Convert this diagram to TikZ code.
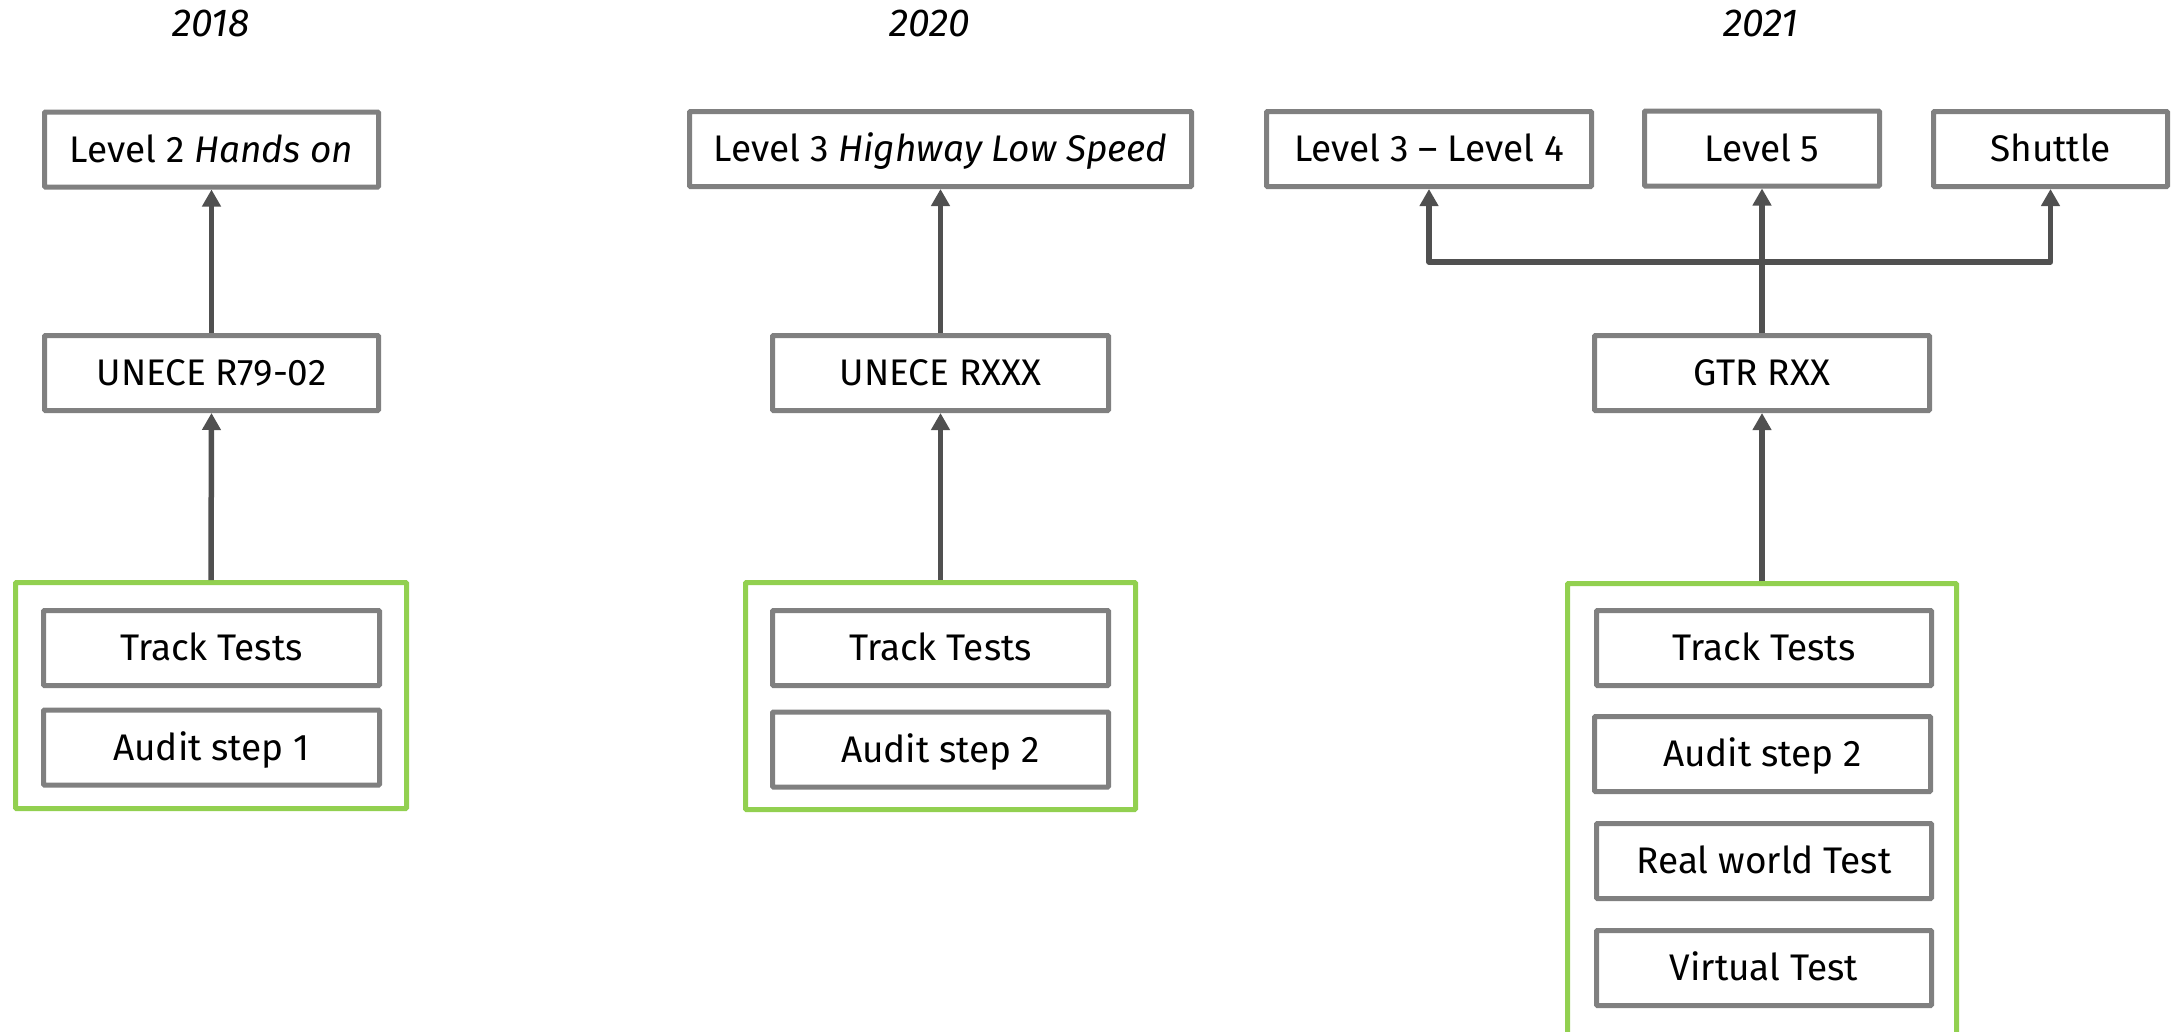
\documentclass[tikz,border=0pt]{standalone}
\usepackage{fontspec}
\setmainfont{Fira Sans}
\usetikzlibrary{arrows.meta}
\definecolor{boxgray}{HTML}{808080}
\definecolor{arrgray}{HTML}{505050}
\definecolor{lgreen}{HTML}{92D050}
\begin{document}
\begin{tikzpicture}[x=1pt,y=-1pt,
  box/.style={draw=boxgray, line width=5pt, fill=white, minimum height=75pt,
    inner sep=0pt, font=\fontsize{37}{40}\selectfont, text height=25.5pt,
    text depth=0pt, rounded corners=1pt},
  grp/.style={draw=lgreen, line width=5pt, inner sep=0pt, rounded corners=1pt},
  arr/.style={draw=arrgray, line width=5.5pt, -{Triangle[width=18pt,length=17pt]},
    line join=round},
  year/.style={font=\fontsize{39}{42}\selectfont\itshape, inner sep=0pt,
    text height=27pt, text depth=0pt}]

\clip (0,0) rectangle (2182,1031);
\fill[white] (0,0) rectangle (2182,1031);

% years
\node[year] (y18) at (211,22.5) {2018};
\node[year] (y20) at (930,22.5) {2020};
\node[year] (y21) at (1761,22.5) {2021};

% green group boxes
\node[grp, minimum width=391pt, minimum height=226pt] (G1) at (211,695.5) {};
\node[grp, minimum width=390pt, minimum height=227pt] (G2) at (940.5,696) {};
\node[grp, minimum width=389pt, minimum height=516pt] (G3) at (1762,841.5) {};

% column 2018
\node[box, minimum width=334pt] (L2) at (211.5,149.5) {Level 2 \textit{Hands on}};
\node[box, minimum width=334pt] (U1) at (211.5,373) {UNECE R79-02};
\node[box, minimum width=336pt] (T1) at (211.5,648) {Track Tests};
\node[box, minimum width=336pt] (A1) at (211.5,747.5) {Audit step 1};

% column 2020
\node[box, minimum width=502pt] (L3) at (940.5,149) {Level 3 \textit{Highway Low Speed}};
\node[box, minimum width=336pt] (U2) at (940.5,373) {UNECE RXXX};
\node[box, minimum width=336pt] (T2) at (940.5,648) {Track Tests};
\node[box, minimum width=336pt] (A2) at (940.5,749.5) {Audit step 2};

% column 2021
\node[box, minimum width=325pt] (L34) at (1429,149) {Level 3 -- Level 4};
\node[box, minimum width=235pt] (L5) at (1762,148.5) {Level 5};
\node[box, minimum width=234pt] (Sh) at (2050.5,149) {Shuttle};
\node[box, minimum width=335pt] (GTR) at (1762,373) {GTR RXX};
\node[box, minimum width=335pt] (T3) at (1764,648) {Track Tests};
\node[box, minimum width=336pt] (A3) at (1762.5,754) {Audit step 2};
\node[box, minimum width=335pt] (R3) at (1764,861) {Real world Test};
\node[box, minimum width=335pt] (V3) at (1764,968) {Virtual Test};

% connectors
\draw[arr] (U1.north) -- (L2.south);
\draw[arr] (G1.north) -- (U1.south);
\draw[arr] (U2.north) -- (L3.south);
\draw[arr] (G2.north) -- (U2.south);
\draw[arr] (G3.north) -- (GTR.south);
\coordinate (bar) at (1762,262);
\draw[arr] (bar) -| (L34.south);
\draw[arr] (bar) -| (Sh.south);
\draw[arr] (GTR.north) -- (L5.south);
\end{tikzpicture}
\end{document}
